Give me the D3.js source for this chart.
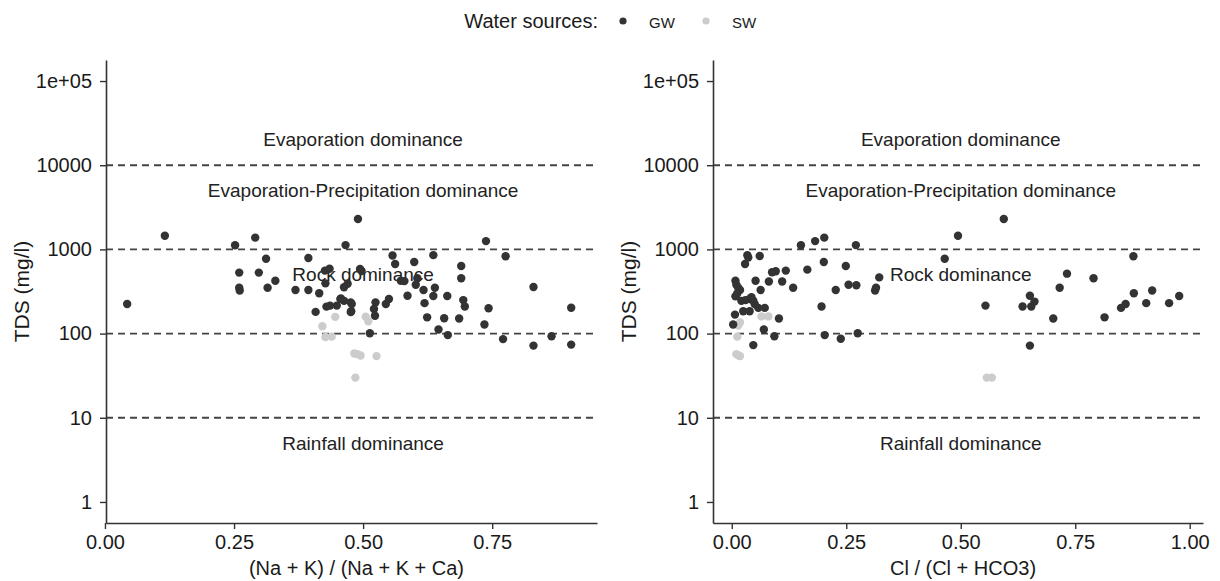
<!DOCTYPE html>
<html>
<head>
<meta charset="utf-8">
<script src="https://cdn.jsdelivr.net/npm/d3@7/dist/d3.min.js"></script>
<style>
  html, body { margin: 0; padding: 0; background: #ffffff; }
  svg { display: block; font-family: "Liberation Sans", Arial, Helvetica, sans-serif; }
</style>
</head>
<body>
<svg id="chart" width="1220" height="581"></svg>
<script>
// ---------- DATA ----------
const sourceNames = ["GW", "SW"];
const sourceColors = ["#333333", "#cccccc"];

// Left panel: (Na + K) / (Na + K + Ca) vs TDS
const gwNaRatio = [0.043,0.116,0.252,0.291,0.312,0.260,0.298,0.330,0.260,0.261,0.315,0.369,0.394,0.394,0.415,0.426,0.435,0.427,0.408,0.429,0.449,0.457,0.463,0.470,0.466,0.477,0.456,0.463,0.476,0.476,0.490,0.494,0.497,0.738,0.776,0.557,0.636,0.562,0.599,0.690,0.690,0.573,0.580,0.602,0.605,0.617,0.639,0.636,0.663,0.586,0.619,0.694,0.697,0.743,0.830,0.903,0.550,0.544,0.524,0.521,0.523,0.624,0.657,0.686,0.735,0.646,0.664,0.513,0.771,0.830,0.865,0.903,0.478,0.436];
const gwTdsNa   = [225,1450,1120,1380,775,530,530,425,350,325,350,330,330,790,302,560,590,395,181,209,215,262,355,390,1125,184,257,245,235,180,2300,585,555,1255,830,845,855,670,710,635,455,425,420,380,455,330,350,280,280,282,230,250,210,200,357,203,258,225,235,196,163,156,152,151,128,112,96,101,86,72,93,74,225,215];
const swNaRatio = [0.446,0.421,0.427,0.439,0.505,0.510,0.489,0.495,0.526,0.485,0.483];
const swTdsNa   = [158,122,91,92,159,140,57,55,54,30,58];

// Right panel: Cl / (Cl + HCO3) vs TDS
const gwClRatio = [0.008,0.010,0.014,0.018,0.034,0.036,0.029,0.061,0.008,0.021,0.039,0.047,0.050,0.058,0.072,0.007,0.025,0.039,0.052,0.063,0.081,0.088,0.096,0.118,0.110,0.134,0.103,0.070,0.093,0.047,0.003,0.151,0.182,0.202,0.271,0.165,0.201,0.249,0.227,0.255,0.272,0.196,0.203,0.238,0.275,0.322,0.315,0.313,0.465,0.494,0.594,0.877,0.732,0.790,0.716,0.554,0.651,0.661,0.635,0.654,0.702,0.814,0.850,0.860,0.878,0.905,0.918,0.955,0.977,0.651,0.030,0.043,0.012];
const gwTdsCl   = [425,380,350,330,855,800,670,835,277,245,258,245,225,202,202,168,184,184,425,330,415,535,550,560,415,350,151,112,93,73,128,1120,1255,1380,1125,575,710,635,330,380,375,210,96,87,101,465,350,325,775,1450,2300,830,515,455,350,215,282,240,210,210,151,156,202,225,302,230,325,230,280,72,250,270,300];
const swClRatio = [0.018,0.014,0.012,0.010,0.018,0.065,0.080,0.557,0.568,0.015];
const swTdsCl   = [136,125,92,57,54,160,160,30,30,55];

// Axes / annotations
const yTickValues = [1, 10, 100, 1000, 10000, 100000];
const yTickLabels = ["1", "10", "100", "1000", "10000", "1e+05"];
const xTicksLeft = [0, 0.25, 0.5, 0.75];
const xTicksRight = [0, 0.25, 0.5, 0.75, 1.0];
const boundaryValues = [10, 100, 1000, 10000];
const zoneLabels = ["Evaporation dominance", "Evaporation-Precipitation dominance", "Rock dominance", "Rainfall dominance"];
const zoneLabelTds = [20000, 5000, 500, 5];
const xTitles = ["(Na + K) / (Na + K + Ca)", "Cl / (Cl + HCO3)"];
const yTitle = "TDS (mg/l)";
const legendTitle = "Water sources:";

// ---------- LAYOUT ----------
const svg = d3.select("#chart");
const plotTop = 60, plotBottom = 523;
const y = d3.scaleLog().domain([Math.pow(10, -0.25), Math.pow(10, 5.25)]).range([plotBottom, plotTop]);

const panels = [
  { left: 106, right: 597, domain: [0.002, 0.953], ticks: xTicksLeft,
    gx: gwNaRatio, gy: gwTdsNa, sx: swNaRatio, sy: swTdsNa, title: xTitles[0] },
  { left: 713, right: 1203, domain: [-0.041, 1.029], ticks: xTicksRight,
    gx: gwClRatio, gy: gwTdsCl, sx: swClRatio, sy: swTdsCl, title: xTitles[1] }
];

const axisColor = "#333333";
const textColor = "#1a1a1a";

panels.forEach(p => {
  const x = d3.scaleLinear().domain(p.domain).range([p.left, p.right]);
  const g = svg.append("g");

  // dashed boundaries
  g.selectAll("line.bound").data(boundaryValues).enter().append("line")
    .attr("class", "bound")
    .attr("x1", p.left).attr("x2", p.right)
    .attr("y1", d => y(d)).attr("y2", d => y(d))
    .attr("stroke", "#444444").attr("stroke-width", 1.8)
    .attr("stroke-dasharray", "7,5");

  // zone labels
  g.selectAll("text.zone").data(zoneLabels).enter().append("text")
    .attr("class", "zone")
    .attr("x", x(0.5)).attr("y", (d, i) => y(zoneLabelTds[i]))
    .attr("text-anchor", "middle").attr("dominant-baseline", "central")
    .attr("font-size", 19).attr("fill", "#222222")
    .text(d => d);

  // points: SW then GW
  const swData = p.sx.map((v, i) => [v, p.sy[i]]);
  const gwData = p.gx.map((v, i) => [v, p.gy[i]]);
  g.selectAll("circle.sw").data(swData).enter().append("circle")
    .attr("class", "sw")
    .attr("cx", d => x(d[0])).attr("cy", d => y(d[1])).attr("r", 4.2)
    .attr("fill", sourceColors[1]);
  g.selectAll("circle.gw").data(gwData).enter().append("circle")
    .attr("class", "gw")
    .attr("cx", d => x(d[0])).attr("cy", d => y(d[1])).attr("r", 4.2)
    .attr("fill", sourceColors[0]);

  // y axis
  const ya = g.append("g").attr("transform", `translate(${p.left},0)`)
    .call(d3.axisLeft(y).tickValues(yTickValues)
      .tickFormat((d, i) => yTickLabels[i]).tickSizeOuter(0).tickSizeInner(6).tickPadding(8));
  // x axis
  const xa = g.append("g").attr("transform", `translate(0,${plotBottom})`)
    .call(d3.axisBottom(x).tickValues(p.ticks)
      .tickFormat(d3.format(".2f")).tickSizeOuter(0).tickSizeInner(6).tickPadding(6));
  [ya, xa].forEach(a => {
    a.select(".domain").attr("stroke", axisColor).attr("stroke-width", 1.6);
    a.selectAll(".tick line").attr("stroke", axisColor).attr("stroke-width", 1.4);
    a.selectAll(".tick text").attr("fill", textColor).attr("font-size", 20)
      .attr("font-family", "Liberation Sans, Arial, sans-serif");
  });

  // x title
  g.append("text").attr("x", (p.left + p.right) / 2 + 5).attr("y", 575)
    .attr("text-anchor", "middle").attr("font-size", 20).attr("fill", textColor)
    .text(p.title);

  // y title
  g.append("text")
    .attr("transform", `translate(${p.left - 77},${(plotTop + plotBottom) / 2}) rotate(-90)`)
    .attr("text-anchor", "middle").attr("font-size", 21).attr("fill", textColor)
    .text(yTitle);
});

// ---------- LEGEND ----------
const lg = svg.append("g");
lg.append("text").attr("x", 598).attr("y", 21).attr("text-anchor", "end")
  .attr("dominant-baseline", "central").attr("font-size", 20).attr("fill", textColor)
  .text(legendTitle);
const legendDotX = [623, 706];
sourceNames.forEach((name, i) => {
  lg.append("circle").attr("cx", legendDotX[i]).attr("cy", 21).attr("r", 3.6)
    .attr("fill", sourceColors[i]);
  lg.append("text").attr("x", legendDotX[i] + 26).attr("y", 22)
    .attr("dominant-baseline", "central").attr("font-size", 15).attr("fill", textColor)
    .text(name);
});
</script>
</body>
</html>
